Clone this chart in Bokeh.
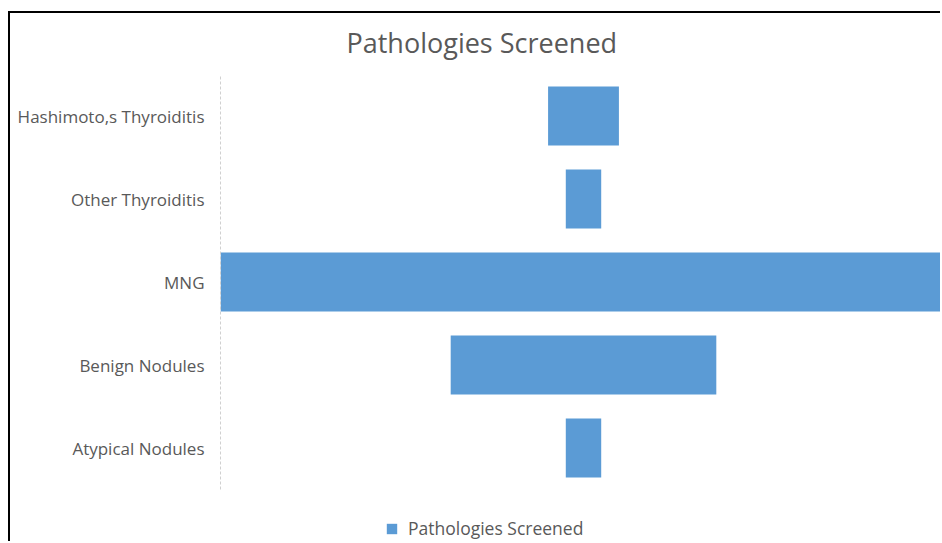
from bokeh.plotting import figure
from bokeh.models import ColumnDataSource, Range1d, Legend, LegendItem, Label, FixedTicker
from bokeh.embed import file_html
from bokeh.resources import INLINE

categories = ["Hashimoto,s Thyroiditis", "Other Thyroiditis", "MNG", "Benign Nodules", "Atypical Nodules"]
values = [8, 4, 82, 30, 4]
series_name = "Pathologies Screened"
title_text = "Pathologies Screened"

BAR = "#5B9BD5"
TXT = "#595959"
FONT = "Open Sans"

n = len(categories)
ypos = [n - i for i in range(n)]          # top-to-bottom order on the category axis
half = [v / 2 for v in values]
src = ColumnDataSource(dict(y=ypos, left=[-h for h in half], right=half))

vmax = max(values)
CANVAS_H = 530
CAT_PX = 83.0            # pixels per category band
TOP_PX = 61.0            # space above the category bands
p = figure(
    width=932, height=CANVAS_H,
    y_range=Range1d(n + 0.5 - (CANVAS_H - TOP_PX) / CAT_PX, n + 0.5 + TOP_PX / CAT_PX),
    x_range=Range1d(-vmax / 2, vmax / 2 * (359 / 363)),
    output_backend="svg", toolbar_location=None,
    min_border_left=210, min_border_right=0, min_border_top=0, min_border_bottom=0,
    styles={"margin-top": "11px", "margin-left": "8px",
            "border-top": "2px solid black", "border-left": "2px solid black"},
)
p.title = None

p.add_layout(Label(x=126, y=CANVAS_H - 29, x_units="screen", y_units="screen",
                   text=title_text, text_font=FONT, text_font_size="27px",
                   text_color=TXT, text_baseline="alphabetic", text_align="left"))

r = p.hbar(y="y", left="left", right="right", height=0.71, source=src,
           fill_color=BAR, line_color=None)

p.xaxis.visible = False
p.xgrid.visible = False
p.ygrid.visible = False
p.outline_line_color = None

ax = p.yaxis[0]
ax.ticker = FixedTicker(ticks=ypos)
ax.major_label_overrides = {y: c for y, c in zip(ypos, categories)}
ax.bounds = (0.5, n + 0.5)
ax.axis_line_color = "#d0d0d0"
ax.axis_line_dash = "3 2"
ax.axis_line_width = 1
ax.major_tick_line_color = None
ax.minor_tick_line_color = None
ax.major_tick_out = 0
ax.major_label_standoff = 16
ax.major_label_text_font = FONT
ax.major_label_text_font_size = "17px"
ax.major_label_text_color = TXT

legend = Legend(items=[LegendItem(label=series_name, renderers=[r])],
                location=(165, 3), orientation="horizontal",
                label_text_font=FONT, label_text_font_size="17.5px", label_text_color=TXT,
                glyph_width=13, glyph_height=13, label_standoff=10, label_height=20,
                padding=0, margin=0, border_line_color=None, background_fill_alpha=0)
p.add_layout(legend, "center")

open("out.html", "w").write(file_html(p, INLINE))
